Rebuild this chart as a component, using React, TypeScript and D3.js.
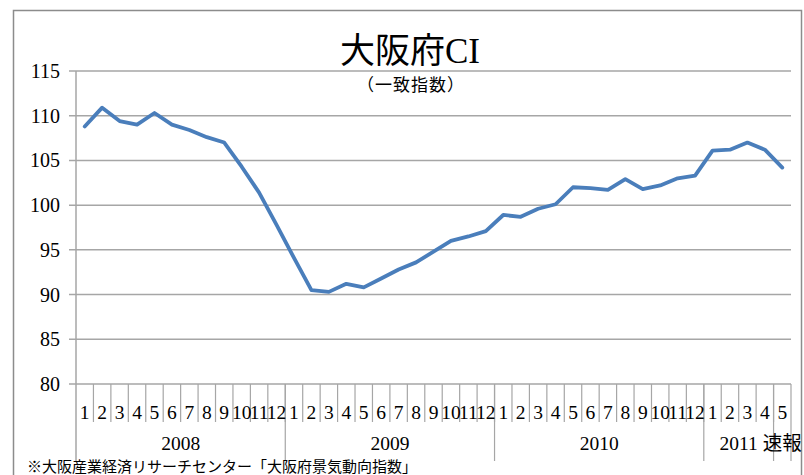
import React from "react";
import * as d3 from "d3";

const years = ["2008", "2009", "2010", "2011", "速報"];
const groupSizes = [12, 12, 12, 4, 1];
const monthLabels = [
  "1","2","3","4","5","6","7","8","9","10","11","12",
  "1","2","3","4","5","6","7","8","9","10","11","12",
  "1","2","3","4","5","6","7","8","9","10","11","12",
  "1","2","3","4","5",
];
const ciValues = [
  108.8, 110.9, 109.4, 109.0, 110.3, 109.0, 108.4, 107.6, 107.0, 104.3, 101.4, 97.8,
  94.1, 90.5, 90.3, 91.2, 90.8, 91.8, 92.8, 93.6, 94.8, 96.0, 96.5, 97.1,
  98.9, 98.7, 99.6, 100.1, 102.0, 101.9, 101.7, 102.9, 101.8, 102.2, 103.0, 103.3,
  106.1, 106.2, 107.0, 106.2, 104.2,
];
const yTicks = [80, 85, 90, 95, 100, 105, 110, 115];

const W = 804;
const H = 475;
const plotL = 76;
const plotR = 791;
const plotT = 71;
const plotB = 384;

const serif = "'Liberation Serif', 'DejaVu Serif', serif";
const jp = "'Liberation Serif', 'Noto Sans CJK JP', serif";

export default function App() {
  const idx = monthLabels.map((_, i) => i);
  const x = d3.scaleBand<number>().domain(idx).range([plotL, plotR]).paddingInner(0).paddingOuter(0);
  const y = d3.scaleLinear().domain([80, 115]).range([plotB, plotT]);
  const bw = x.bandwidth();
  const line = d3
    .line<number>()
    .x((_, i) => (x(i) as number) + bw / 2)
    .y((d) => y(d));

  const starts: number[] = [];
  let acc = 0;
  groupSizes.forEach((s) => {
    starts.push(acc);
    acc += s;
  });

  return (
    <svg width={W} height={H} style={{ position: "absolute", left: 0, top: 0 }}>
      <rect x={0} y={0} width={W} height={H} fill="#fff" />
      <rect x={13.5} y={10.5} width={788} height={480} fill="none" stroke="#8c8c8c" strokeWidth={1.5} />
      <text x={410} y={63} textAnchor="middle" fontFamily={jp} fontSize={35} fill="#000">
        大阪府CI
      </text>
      <text x={411} y={91} textAnchor="middle" fontFamily="'Noto Sans CJK JP', sans-serif" fontSize={17} letterSpacing={1} fill="#000">
        （一致指数）
      </text>
      {yTicks.map((t) => (
        <g key={t}>
          <line x1={plotL - 7} x2={plotR} y1={y(t)} y2={y(t)} stroke="#a6a6a6" strokeWidth={1.5} />
          <text x={60} y={y(t)} dy="0.35em" textAnchor="end" fontFamily={serif} fontSize={20} fill="#000">
            {t}
          </text>
        </g>
      ))}
      <line x1={plotL} x2={plotL} y1={plotT} y2={461} stroke="#a6a6a6" strokeWidth={1.5} />
      {idx.slice(1).map((i) => (
        <line key={"t" + i} x1={x(i) as number} x2={x(i) as number} y1={plotB} y2={422} stroke="#a6a6a6" strokeWidth={1.2} />
      ))}
      {starts.slice(1).map((s) => (
        <line key={"g" + s} x1={x(s) as number} x2={x(s) as number} y1={plotB} y2={461} stroke="#a6a6a6" strokeWidth={1.2} />
      ))}
      <line x1={plotR} x2={plotR} y1={plotB} y2={461} stroke="#a6a6a6" strokeWidth={1.2} />
      {monthLabels.map((m, i) => (
        <text key={"m" + i} x={(x(i) as number) + bw / 2} y={412} dy="0.35em" textAnchor="middle" fontFamily={serif} fontSize={19.5} fill="#000">
          {m}
        </text>
      ))}
      {years.map((yr, gi) => {
        const x0 = x(starts[gi]) as number;
        const x1 = x0 + groupSizes[gi] * bw;
        return (
          <text key={yr} x={(x0 + x1) / 2} y={443} dy="0.35em" textAnchor="middle" fontFamily={jp} fontSize={19.5} fill="#000">
            {yr}
          </text>
        );
      })}
      <path d={line(ciValues) || ""} fill="none" stroke="#4a7ebb" strokeWidth={3.8} strokeLinejoin="round" strokeLinecap="round" />
      <text x={27} y={467} dy="0.35em" fontFamily="'Noto Sans CJK JP', sans-serif" fontSize={15} fill="#000">
        ※大阪産業経済リサーチセンター「大阪府景気動向指数」
      </text>
    </svg>
  );
}
